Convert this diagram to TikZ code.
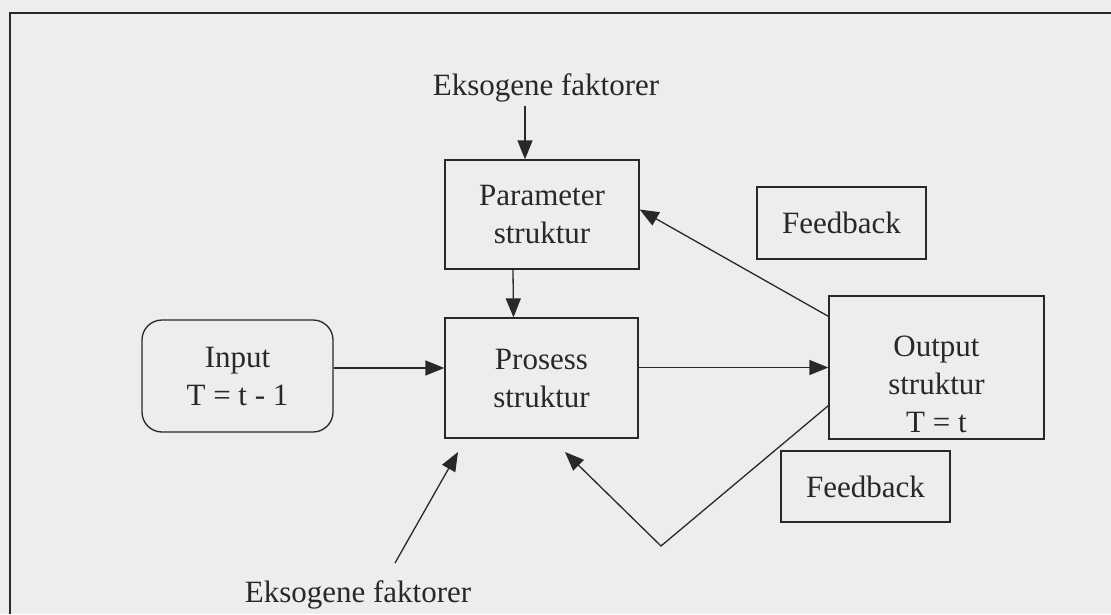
\documentclass[tikz,border=0pt]{standalone}
\usepackage{fontspec}
\setmainfont{Liberation Serif}
\usetikzlibrary{arrows.meta}
\definecolor{scanbg}{RGB}{237,237,237}
\definecolor{ink}{RGB}{40,40,40}
\begin{document}
\begin{tikzpicture}[x=1pt, y=-1pt, every node/.style = {text=ink, align=center, font=\fontsize{31}{38}\selectfont},
        box/.style = {draw=ink, line width=1.3pt, inner sep=0pt},
        conn/.style = {draw=ink, line width=1.3pt, -{Triangle[length=19pt,width=15pt]}},
        plain/.style = {draw=ink, line width=1.3pt}]
    \fill[scanbg] (0,0) rectangle (1111,614);
    \useasboundingbox (0,0) rectangle (1111,614);
    % frame of the scanned page
    \draw[ink, line width=2pt] (10,614) -- (10,13) -- (1111,13);

    \node[box, minimum width=194, minimum height=109] (param) at (542,214.5) {Parameter\\struktur};
    \node[box, minimum width=193, minimum height=120] (prosess) at (541.5,378) {Prosess\\struktur};
    \node[box, rounded corners=20pt, minimum width=191, minimum height=112] (input) at (237.5,376) {Input\\T = t - 1};
    \node[box, minimum width=215, minimum height=143] (output) at (936.5,367.5) {};
    \node (outtext) at (936.5,384) {Output\\struktur\\T = t};
    \node[box, minimum width=169, minimum height=72] (fbtop) at (841.5,223) {Feedback};
    \node[box, minimum width=169, minimum height=71] (fbbot) at (865.5,486.5) {Feedback};
    \node (exotop) at (546,88) {Eksogene faktorer};
    \node (exobot) at (358,595) {Eksogene faktorer};

    \coordinate (exotail) at (395,563);
    \coordinate (exotip) at (458,452);
    \coordinate (fbbend) at (661,546);
    \coordinate (fbtip) at (565,452);

    \draw[conn] ([xshift=-21pt]exotop.south) -- ([xshift=-17pt]param.north);
    \draw[conn] ([xshift=-29pt]param.south) -- ([xshift=-28pt]prosess.north);
    \draw[conn] (input.east |- 0,368) -- (prosess.west |- 0,368);
    \draw[conn] (prosess.east |- output.west) -- (output.west);
    \draw[conn] ([yshift=-21pt]output.north west) -- ([yshift=5pt]param.east);
    \draw[conn] ([yshift=34pt]output.south west) -- (fbbend) -- (fbtip);
    \draw[conn] (exotail) -- (exotip);
\end{tikzpicture}
\end{document}
